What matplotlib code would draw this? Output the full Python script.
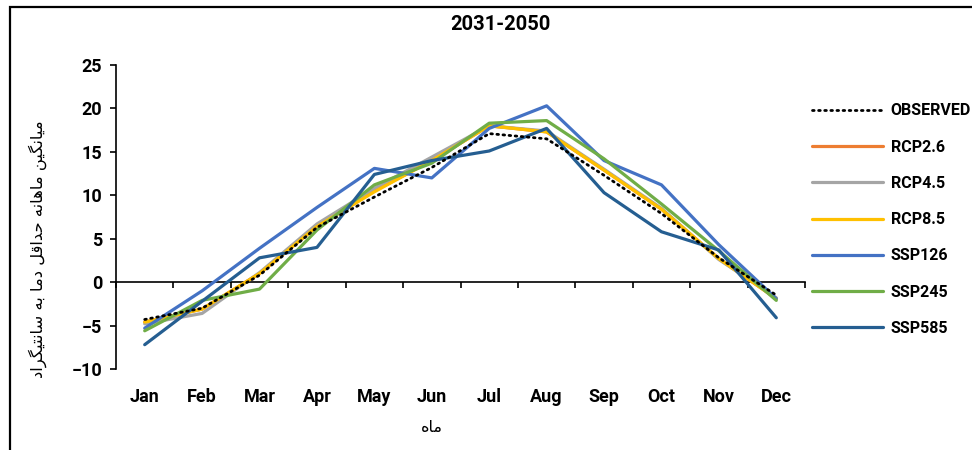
"""Monthly mean minimum temperature, 2031-2050, observed vs. scenario projections."""

import matplotlib

matplotlib.use("Agg")

import matplotlib.pyplot as plt
from matplotlib.patches import Rectangle
from matplotlib.transforms import blended_transform_factory

MONTHS = ["Jan", "Feb", "Mar", "Apr", "May", "Jun", "Jul", "Aug", "Sep", "Oct", "Nov", "Dec"]

OBSERVED = [-4.3, -3.0, 0.8, 6.3, 9.8, 13.2, 17.1, 16.5, 12.3, 7.9, 2.8, -1.5]
RCP26 = [-4.6, -3.1, 1.0, 6.4, 10.5, 14.0, 18.0, 17.3, 12.9, 8.4, 2.7, -1.9]
RCP45 = [-4.8, -3.6, 1.1, 6.7, 10.8, 14.4, 18.0, 17.4, 13.0, 8.5, 2.6, -1.8]
RCP85 = [-4.6, -3.1, 1.0, 6.4, 10.4, 14.0, 18.0, 17.3, 12.9, 8.4, 2.7, -1.9]
SSP126 = [-5.3, -1.0, 3.9, 8.6, 13.1, 12.0, 17.7, 20.3, 14.0, 11.2, 4.3, -1.9]
SSP245 = [-5.6, -2.1, -0.8, 6.0, 11.2, 13.7, 18.3, 18.6, 14.2, 9.0, 3.6, -2.1]
SSP585 = [-7.2, -2.2, 2.8, 4.0, 12.4, 14.0, 15.1, 17.7, 10.3, 5.8, 3.7, -4.1]

TITLE = "2031-2050"
Y_LABEL = "میانگین ماهانه حداقل دما به سانتیگراد"
X_LABEL = "ماه"

SERIES = [
    ("RCP2.6", RCP26, "#ED7D31"),
    ("RCP4.5", RCP45, "#A5A5A5"),
    ("RCP8.5", RCP85, "#FFC000"),
    ("SSP126", SSP126, "#4472C4"),
    ("SSP245", SSP245, "#70AD47"),
    ("SSP585", SSP585, "#255E91"),
]

# Arabic presentation forms: isolated, final, initial, medial
FORMS = {
    "ا": ("\uFE8D", "\uFE8E", None, None),
    "ب": ("\uFE8F", "\uFE90", "\uFE91", "\uFE92"),
    "ت": ("\uFE95", "\uFE96", "\uFE97", "\uFE98"),
    "ح": ("\uFEA1", "\uFEA2", "\uFEA3", "\uFEA4"),
    "د": ("\uFEA9", "\uFEAA", None, None),
    "ر": ("\uFEAD", "\uFEAE", None, None),
    "س": ("\uFEB1", "\uFEB2", "\uFEB3", "\uFEB4"),
    "ق": ("\uFED5", "\uFED6", "\uFED7", "\uFED8"),
    "ل": ("\uFEDD", "\uFEDE", "\uFEDF", "\uFEE0"),
    "م": ("\uFEE1", "\uFEE2", "\uFEE3", "\uFEE4"),
    "ن": ("\uFEE5", "\uFEE6", "\uFEE7", "\uFEE8"),
    "ه": ("\uFEE9", "\uFEEA", "\uFEEB", "\uFEEC"),
    "ی": ("\uFBFC", "\uFBFD", "\uFBFE", "\uFBFF"),
    "گ": ("\uFB92", "\uFB93", "\uFB94", "\uFB95"),
}


def shape_rtl(text: str) -> str:
    """Join Persian letters into contextual forms and return them in visual order."""
    out = []
    for i, ch in enumerate(text):
        if ch not in FORMS:
            out.append(ch)
            continue
        prev = text[i - 1] if i > 0 else ""
        nxt = text[i + 1] if i + 1 < len(text) else ""
        joins_prev = prev in FORMS and FORMS[prev][2] is not None
        joins_next = FORMS[ch][2] is not None and nxt in FORMS
        iso, fin, ini, med = FORMS[ch]
        if joins_prev and joins_next:
            out.append(med)
        elif joins_prev:
            out.append(fin)
        elif joins_next:
            out.append(ini)
        else:
            out.append(iso)
    return "".join(reversed(out))


plt.rcParams.update({
    "font.family": ["Roboto", "DejaVu Sans"],
    "font.weight": "bold",
    "axes.linewidth": 1.2,
})

fig = plt.figure(figsize=(9.72, 4.5), dpi=100)
fig.patch.set_facecolor("white")

# outer chart-area frame (only top and left edges fall inside the canvas)
fig.patches.append(Rectangle((9.5 / 972, -0.1), 1.2, 1.1 - 6.5 / 450,
                             transform=fig.transFigure, fill=False,
                             edgecolor="black", linewidth=1.6))

ax = fig.add_axes([116 / 972, 1 - 369 / 450, 689 / 972, 304 / 450])
x = list(range(len(MONTHS)))

for name, values, color in SERIES:
    ax.plot(x, values, color=color, linewidth=2.3, solid_joinstyle="round",
            solid_capstyle="round", label=name, zorder=3)
ax.plot(x, OBSERVED, color="black", linewidth=2.0, linestyle=(0, (0.6, 1.6)),
        dash_capstyle="round", label="OBSERVED", zorder=4)

ax.set_xlim(-0.5, len(MONTHS) - 0.5)
ax.set_ylim(-10, 25)
ax.set_yticks(range(-10, 26, 5))
ax.tick_params(axis="y", direction="out", length=4, width=1.2, labelsize=13, pad=6)

ax.spines["top"].set_visible(False)
ax.spines["right"].set_visible(False)
ax.spines["bottom"].set_position(("data", 0))
ax.set_xticks([i - 0.5 for i in range(len(MONTHS) + 1)])
ax.set_xticklabels([])
ax.tick_params(axis="x", direction="out", length=4, width=1.2)

label_tf = blended_transform_factory(ax.transData, fig.transFigure)
for i, month in enumerate(MONTHS):
    ax.text(i, 1 - 397 / 450, month, transform=label_tf, ha="center", va="center",
            fontsize=13, fontweight="bold")

fig.text(500 / 972, 1 - 25 / 450, TITLE, ha="center", va="center",
         fontsize=14.5, fontweight="bold")
fig.text(38 / 972, 1 - 249 / 450, shape_rtl(Y_LABEL), rotation=90, ha="center",
         va="center", fontsize=11.8, fontweight="normal", family="DejaVu Sans")
fig.text(432 / 972, 1 - 428 / 450, shape_rtl(X_LABEL), ha="center", va="center",
         fontsize=11.5, fontweight="normal", family="DejaVu Sans")

handles, labels = ax.get_legend_handles_labels()
order = [labels.index("OBSERVED")] + [labels.index(n) for n, _, _ in SERIES]
fig.legend([handles[i] for i in order], [labels[i] for i in order],
           loc="upper left", bbox_to_anchor=(806 / 972, 1 - 97 / 450),
           frameon=False, fontsize=11.5, handlelength=4.4, handletextpad=0.5,
           labelspacing=1.33, borderaxespad=0)

fig.savefig("out.png", dpi=100, facecolor="white")
